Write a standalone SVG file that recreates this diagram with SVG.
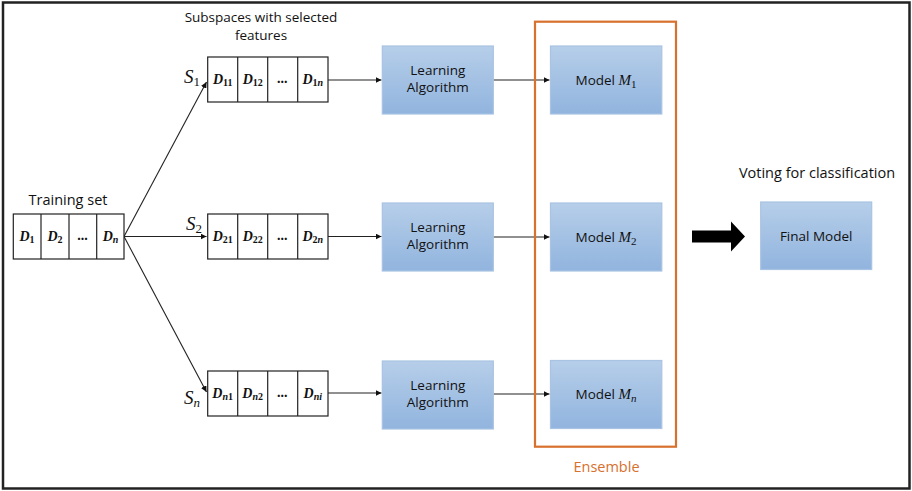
<svg xmlns="http://www.w3.org/2000/svg" width="912" height="491" viewBox="0 0 912 491">
<defs>
  <linearGradient id="blueGrad" x1="0" y1="0" x2="0" y2="1">
    <stop offset="0" stop-color="#b6cee9"/>
    <stop offset="1" stop-color="#91b4de"/>
  </linearGradient>
  <marker id="arr" viewBox="0 0 10 10" refX="10" refY="5" markerWidth="6" markerHeight="6" markerUnits="userSpaceOnUse" orient="auto">
    <path d="M0,0 L10,5 L0,10 z" fill="#111"/>
  </marker>
  <style>
    .frame { fill: #fff; stroke: #222; stroke-width: 2.5; }
    .cell { fill: #fff; stroke: #222; stroke-width: 1.2; }
    .blue { fill: url(#blueGrad); stroke: #a9c3e3; stroke-width: 1.2; }
    .conn { fill: none; stroke: #222; stroke-width: 1.1; marker-end: url(#arr); }
    .sans { font-family: "Open Sans", "Liberation Sans", sans-serif; fill: #111; }
    .math { font-family: "Liberation Serif", "DejaVu Serif", serif; font-style: italic; fill: #111; }
    .d { font-family: "Liberation Serif", "DejaVu Serif", serif; font-style: italic; font-weight: bold; font-size: 14px; fill: #111; }
    .sub { font-size: 10px; font-style: normal; }
    .subi { font-size: 10px; font-style: italic; }
    .lbl { font-size: 13.5px; }
    .s { font-size: 19px; }
    .ssub { font-size: 13px; font-style: normal; }
    .ssubi { font-size: 13px; font-style: italic; }
    .m { font-size: 15px; }
    .msub { font-size: 11px; font-style: normal; }
    .msubi { font-size: 11px; font-style: italic; }
  </style>
</defs>

<rect class="frame" x="3" y="2.5" width="906.5" height="486"/>

<g id="connectors">
  <line class="conn" x1="124" y1="236.5" x2="206.5" y2="82"/>
  <line class="conn" x1="124" y1="236.5" x2="206.5" y2="236.5"/>
  <line class="conn" x1="124" y1="236.5" x2="206.5" y2="392"/>
  <line class="conn" x1="328" y1="80" x2="381.5" y2="80"/>
  <line class="conn" x1="328" y1="236.5" x2="381.5" y2="236.5"/>
  <line class="conn" x1="328" y1="393" x2="381.5" y2="393"/>
  <line class="conn" x1="493" y1="80" x2="549.5" y2="80"/>
  <line class="conn" x1="493" y1="237" x2="549.5" y2="237"/>
  <line class="conn" x1="493" y1="394" x2="549.5" y2="394"/>
  <path d="M692,230.5 L731,230.5 L731,221.5 L745,236.5 L731,251.5 L731,242.5 L692,242.5 z" fill="#000"/>
</g>

<g id="training-set">
  <text class="sans" x="68" y="205" font-size="14.5" text-anchor="middle">Training set</text>
  <rect class="cell" x="13.3" y="214" width="110.7" height="45"/>
  <line class="cell" x1="41" y1="214" x2="41" y2="259"/>
  <line class="cell" x1="69" y1="214" x2="69" y2="259"/>
  <line class="cell" x1="96.7" y1="214" x2="96.7" y2="259"/>
  <text class="d" x="27" y="241" text-anchor="middle">D<tspan class="sub" dy="2">1</tspan></text>
  <text class="d" x="55" y="241" text-anchor="middle">D<tspan class="sub" dy="2">2</tspan></text>
  <text class="d" x="83" y="240" text-anchor="middle">...</text>
  <text class="d" x="110.5" y="241" text-anchor="middle">D<tspan class="subi" dy="2">n</tspan></text>
</g>

<g id="subspace-title">
  <text class="sans" x="261" y="22" font-size="13.5" text-anchor="middle">Subspaces with selected</text>
  <text class="sans" x="261" y="40" font-size="13.5" text-anchor="middle">features</text>
</g>

<g id="subspace-1">
  <text class="math s" x="184" y="83">S<tspan class="ssub" dy="3">1</tspan></text>
  <rect class="cell" x="207.7" y="57" width="120.3" height="45"/>
  <line class="cell" x1="237.7" y1="57" x2="237.7" y2="102"/>
  <line class="cell" x1="267.7" y1="57" x2="267.7" y2="102"/>
  <line class="cell" x1="297.7" y1="57" x2="297.7" y2="102"/>
  <text class="d" x="222.7" y="84" text-anchor="middle">D<tspan class="sub" dy="2">11</tspan></text>
  <text class="d" x="252.7" y="84" text-anchor="middle">D<tspan class="sub" dy="2">12</tspan></text>
  <text class="d" x="282.7" y="83" text-anchor="middle">...</text>
  <text class="d" x="312.8" y="84" text-anchor="middle">D<tspan class="sub" dy="2">1</tspan><tspan class="subi">n</tspan></text>
</g>

<g id="subspace-2">
  <text class="math s" x="186" y="230">S<tspan class="ssub" dy="3">2</tspan></text>
  <rect class="cell" x="207.7" y="214" width="120.3" height="45"/>
  <line class="cell" x1="237.7" y1="214" x2="237.7" y2="259"/>
  <line class="cell" x1="267.7" y1="214" x2="267.7" y2="259"/>
  <line class="cell" x1="297.7" y1="214" x2="297.7" y2="259"/>
  <text class="d" x="222.7" y="241" text-anchor="middle">D<tspan class="sub" dy="2">21</tspan></text>
  <text class="d" x="252.7" y="241" text-anchor="middle">D<tspan class="sub" dy="2">22</tspan></text>
  <text class="d" x="282.7" y="240" text-anchor="middle">...</text>
  <text class="d" x="312.8" y="241" text-anchor="middle">D<tspan class="sub" dy="2">2</tspan><tspan class="subi">n</tspan></text>
</g>

<g id="subspace-n">
  <text class="math s" x="184" y="404">S<tspan class="ssubi" dy="3">n</tspan></text>
  <rect class="cell" x="207.7" y="371" width="120.3" height="45"/>
  <line class="cell" x1="237.7" y1="371" x2="237.7" y2="416"/>
  <line class="cell" x1="267.7" y1="371" x2="267.7" y2="416"/>
  <line class="cell" x1="297.7" y1="371" x2="297.7" y2="416"/>
  <text class="d" x="222.7" y="398" text-anchor="middle">D<tspan class="subi" dy="2">n</tspan><tspan class="sub">1</tspan></text>
  <text class="d" x="252.7" y="398" text-anchor="middle">D<tspan class="subi" dy="2">n</tspan><tspan class="sub">2</tspan></text>
  <text class="d" x="282.7" y="397" text-anchor="middle">...</text>
  <text class="d" x="312.8" y="398" text-anchor="middle">D<tspan class="subi" dy="2">ni</tspan></text>
</g>

<g id="learning-1">
  <rect class="blue" x="382.3" y="46" width="111" height="68"/>
  <text class="sans lbl" x="437.8" y="75" text-anchor="middle">Learning</text>
  <text class="sans lbl" x="437.8" y="92" text-anchor="middle">Algorithm</text>
</g>
<g id="learning-2">
  <rect class="blue" x="382.3" y="203" width="111" height="68"/>
  <text class="sans lbl" x="437.8" y="232" text-anchor="middle">Learning</text>
  <text class="sans lbl" x="437.8" y="249" text-anchor="middle">Algorithm</text>
</g>
<g id="learning-n">
  <rect class="blue" x="382.3" y="361" width="111" height="68"/>
  <text class="sans lbl" x="437.8" y="390" text-anchor="middle">Learning</text>
  <text class="sans lbl" x="437.8" y="407" text-anchor="middle">Algorithm</text>
</g>

<g id="ensemble">
  <rect x="535" y="21.7" width="141" height="425" fill="none" stroke="#d8702e" stroke-width="2.2"/>
  <text class="sans" x="606.5" y="472" font-size="14.5" text-anchor="middle" style="fill:#d8702e">Ensemble</text>
</g>

<g id="model-1">
  <rect class="blue" x="550.5" y="46" width="111.3" height="68"/>
  <text x="606" y="85" text-anchor="middle"><tspan class="sans lbl">Model </tspan><tspan class="math m">M</tspan><tspan class="math msub" dy="3">1</tspan></text>
</g>
<g id="model-2">
  <rect class="blue" x="550.5" y="203" width="111.3" height="68"/>
  <text x="606" y="242" text-anchor="middle"><tspan class="sans lbl">Model </tspan><tspan class="math m">M</tspan><tspan class="math msub" dy="3">2</tspan></text>
</g>
<g id="model-n">
  <rect class="blue" x="550.5" y="360.5" width="111.3" height="68"/>
  <text x="606" y="399" text-anchor="middle"><tspan class="sans lbl">Model </tspan><tspan class="math m">M</tspan><tspan class="math msubi" dy="3">n</tspan></text>
</g>

<g id="final-model">
  <text class="sans" x="817" y="178" font-size="14.5" text-anchor="middle">Voting for classification</text>
  <rect class="blue" x="760.7" y="202" width="111" height="67.5"/>
  <text class="sans lbl" x="816.2" y="241" text-anchor="middle">Final Model</text>
</g>
</svg>
